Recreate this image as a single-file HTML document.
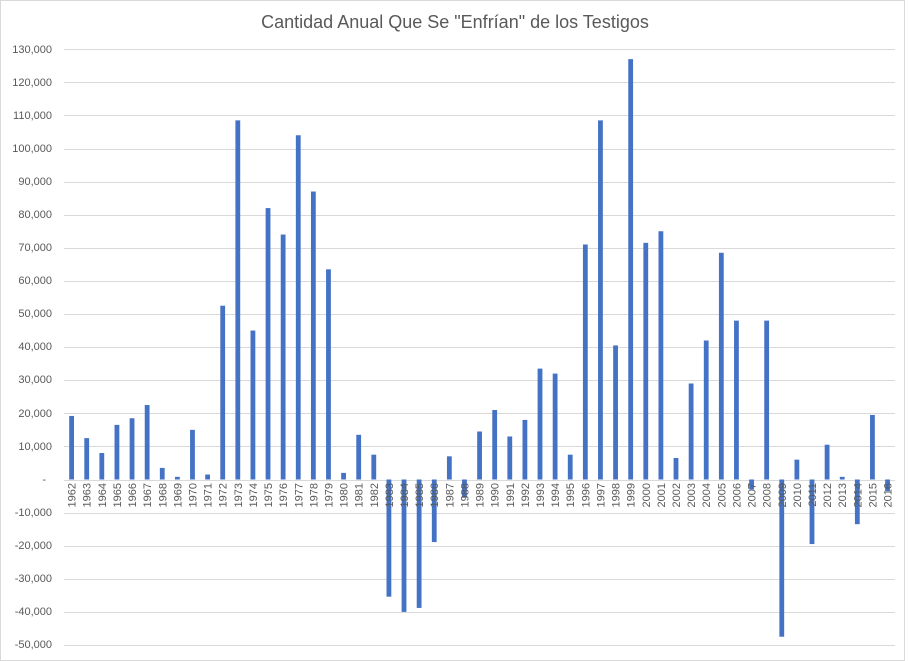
<!DOCTYPE html>
<html><head><meta charset="utf-8"><style>
html,body{margin:0;padding:0;background:#fff}
svg{display:block}
text{font-family:"Liberation Sans",sans-serif;fill:#595959}
</style></head><body>
<svg id="s" width="909" height="661" viewBox="0 0 909 661">
<rect x="0.5" y="0.5" width="904" height="660" fill="#fff" stroke="#d9d9d9"/>
<text x="455" y="28" font-size="18" text-anchor="middle">Cantidad Anual Que Se "Enfrían" de los Testigos</text>
<g id="grid" stroke="#d9d9d9" stroke-width="1"></g>
<g font-size="11" text-anchor="end">
<text x="52" y="53">130,000</text><text x="52" y="86">120,000</text><text x="52" y="119">110,000</text>
<text x="52" y="152">100,000</text><text x="52" y="185">90,000</text><text x="52" y="218">80,000</text>
<text x="52" y="251">70,000</text><text x="52" y="284">60,000</text><text x="52" y="317">50,000</text>
<text x="52" y="350">40,000</text><text x="52" y="383">30,000</text><text x="52" y="417">20,000</text>
<text x="52" y="450">10,000</text><text x="46" y="483">-</text><text x="52" y="516">-10,000</text>
<text x="52" y="549">-20,000</text><text x="52" y="582">-30,000</text><text x="52" y="615">-40,000</text>
<text x="52" y="648">-50,000</text>
</g>
<g id="bars" fill="#4472c4"></g>
<g font-size="11" text-anchor="end">
<text transform="translate(75.6,483) rotate(-90)">1962</text>
<text transform="translate(90.7,483) rotate(-90)">1963</text>
<text transform="translate(105.8,483) rotate(-90)">1964</text>
<text transform="translate(120.9,483) rotate(-90)">1965</text>
<text transform="translate(136,483) rotate(-90)">1966</text>
<text transform="translate(151.2,483) rotate(-90)">1967</text>
<text transform="translate(166.3,483) rotate(-90)">1968</text>
<text transform="translate(181.4,483) rotate(-90)">1969</text>
<text transform="translate(196.5,483) rotate(-90)">1970</text>
<text transform="translate(211.6,483) rotate(-90)">1971</text>
<text transform="translate(226.7,483) rotate(-90)">1972</text>
<text transform="translate(241.8,483) rotate(-90)">1973</text>
<text transform="translate(256.9,483) rotate(-90)">1974</text>
<text transform="translate(272,483) rotate(-90)">1975</text>
<text transform="translate(287.1,483) rotate(-90)">1976</text>
<text transform="translate(302.3,483) rotate(-90)">1977</text>
<text transform="translate(317.4,483) rotate(-90)">1978</text>
<text transform="translate(332.5,483) rotate(-90)">1979</text>
<text transform="translate(347.6,483) rotate(-90)">1980</text>
<text transform="translate(362.7,483) rotate(-90)">1981</text>
<text transform="translate(377.8,483) rotate(-90)">1982</text>
<text transform="translate(392.9,483) rotate(-90)">1983</text>
<text transform="translate(408,483) rotate(-90)">1984</text>
<text transform="translate(423.1,483) rotate(-90)">1985</text>
<text transform="translate(438.2,483) rotate(-90)">1986</text>
<text transform="translate(453.4,483) rotate(-90)">1987</text>
<text transform="translate(468.5,483) rotate(-90)">1988</text>
<text transform="translate(483.6,483) rotate(-90)">1989</text>
<text transform="translate(498.7,483) rotate(-90)">1990</text>
<text transform="translate(513.8,483) rotate(-90)">1991</text>
<text transform="translate(528.9,483) rotate(-90)">1992</text>
<text transform="translate(544,483) rotate(-90)">1993</text>
<text transform="translate(559.1,483) rotate(-90)">1994</text>
<text transform="translate(574.2,483) rotate(-90)">1995</text>
<text transform="translate(589.3,483) rotate(-90)">1996</text>
<text transform="translate(604.5,483) rotate(-90)">1997</text>
<text transform="translate(619.6,483) rotate(-90)">1998</text>
<text transform="translate(634.7,483) rotate(-90)">1999</text>
<text transform="translate(649.8,483) rotate(-90)">2000</text>
<text transform="translate(664.9,483) rotate(-90)">2001</text>
<text transform="translate(680,483) rotate(-90)">2002</text>
<text transform="translate(695.1,483) rotate(-90)">2003</text>
<text transform="translate(710.2,483) rotate(-90)">2004</text>
<text transform="translate(725.3,483) rotate(-90)">2005</text>
<text transform="translate(740.4,483) rotate(-90)">2006</text>
<text transform="translate(755.6,483) rotate(-90)">2007</text>
<text transform="translate(770.7,483) rotate(-90)">2008</text>
<text transform="translate(785.8,483) rotate(-90)">2009</text>
<text transform="translate(800.9,483) rotate(-90)">2010</text>
<text transform="translate(816,483) rotate(-90)">2011</text>
<text transform="translate(831.1,483) rotate(-90)">2012</text>
<text transform="translate(846.2,483) rotate(-90)">2013</text>
<text transform="translate(861.3,483) rotate(-90)">2014</text>
<text transform="translate(876.4,483) rotate(-90)">2015</text>
<text transform="translate(891.5,483) rotate(-90)">2016</text>
</g>
</svg>
<script>
var NS="http://www.w3.org/2000/svg";
var z=479.5,k=0.00331;
var g=document.getElementById("grid");
for(var v=-50000;v<=130000;v+=10000){var y=Math.round(z-v*k)+0.5;var l=document.createElementNS(NS,"line");
l.setAttribute("x1",64);l.setAttribute("x2",895);l.setAttribute("y1",y);l.setAttribute("y2",y);g.appendChild(l);}
var d=[19200,12500,8000,16500,18500,22500,3500,800,15000,1500,52500,108500,45000,82000,74000,104000,87000,63500,2000,13500,7500,-35400,-40000,-38800,-18900,7000,-5500,14500,21000,13000,18000,33500,32000,7500,71000,108500,40500,127000,71500,75000,6500,29000,42000,68500,48000,-3000,48000,-47500,6000,-19500,10500,800,-13500,19500,-3500];
var b=document.getElementById("bars");
d.forEach(function(v,i){var cx=71.6+15.11*i;var h=Math.abs(v)*k;var r=document.createElementNS(NS,"rect");
r.setAttribute("x",cx-2.4);r.setAttribute("width",4.8);r.setAttribute("y",v>=0?z-h:z);r.setAttribute("height",h);b.appendChild(r);});
</script>
</body></html>
